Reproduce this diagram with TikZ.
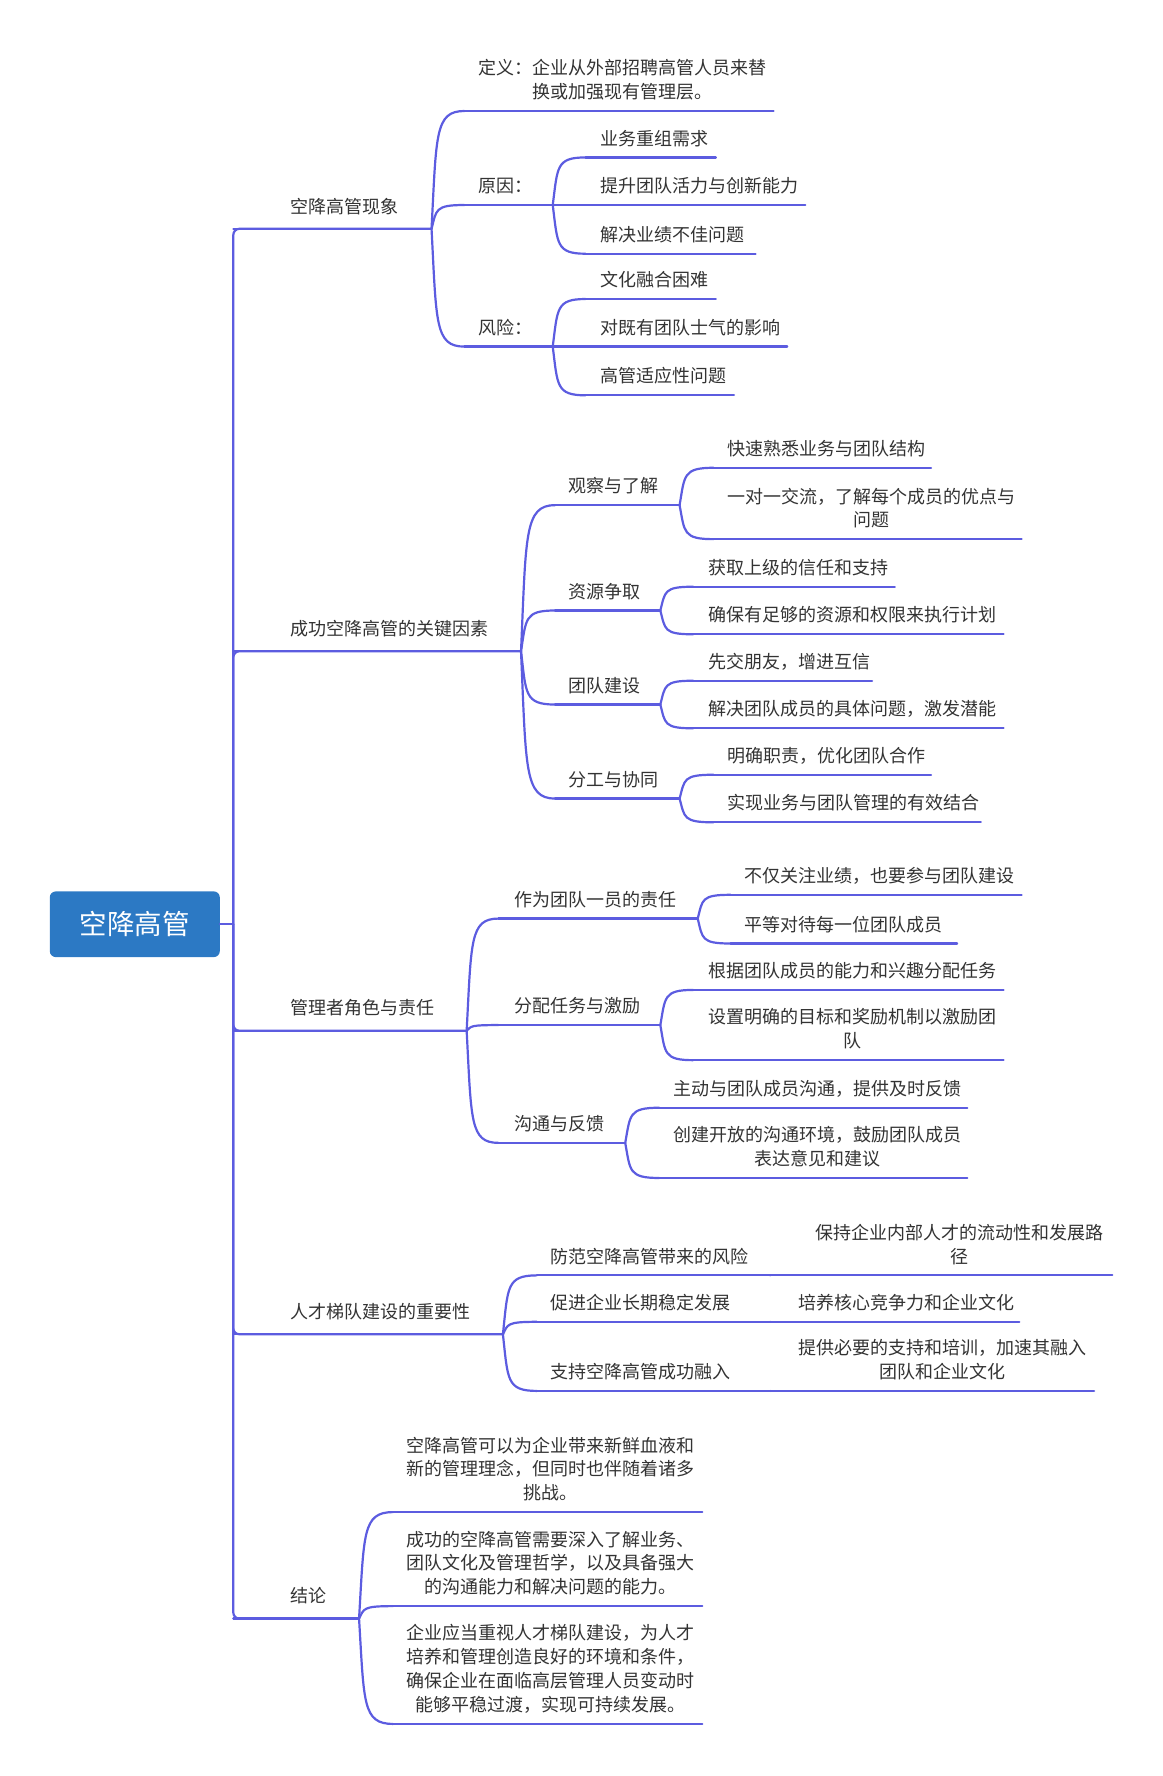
\documentclass[tikz,border=0pt]{standalone}
\usepackage{fontspec}
\newfontfamily\cjk{Noto Sans CJK SC}
\usetikzlibrary{calc}
\definecolor{lncol}{RGB}{92,92,224}
\definecolor{rootcol}{RGB}{44,121,196}
\definecolor{txtcol}{RGB}{51,51,51}
\tikzset{
  ln/.style={draw=lncol, line width=2.2pt, line cap=round},
  txt/.style={inner sep=0pt, align=center, text=txtcol, font=\cjk\fontsize{18}{23.8}\selectfont},
  rootbox/.style={fill=rootcol, rounded corners=6pt, minimum width=170pt, minimum height=65.7pt, inner sep=0pt, text=white, font=\cjk\fontsize{27.5}{30}\selectfont}
}
\newcommand\mmtopic[8][17]{%
  \coordinate (#2-s) at (#3,#5);
  \coordinate (#2-e) at (#4,#5);
  \draw[ln] (#2-s) -- (#2-e);
  \node[txt, anchor=west] (#2) at ({#6},{#5-#1-10.5*(#7-1)}) {#8};
}
\newcommand\mmcurve[2]{%
  \draw[ln] let \p1=(#1), \p2=(#2) in (\p1) .. controls ({\x1+0.15*(\x2-\x1)},{\y1+0.8*(\y2-\y1)}) and ({\x1+0.1*(\x2-\x1)},{\y2}) .. (\p2);
}
\begin{document}
\begin{tikzpicture}[x=1.1326pt,y=-1.1326pt]
\useasboundingbox (0,0) rectangle (1026,1568);
% root
\node[rootbox] (root) at (119,816) {空降高管};
\coordinate (rj) at (206,816);
\draw[ln] (root.east) -- (rj);
% main branches
\mmtopic[20]{B1}{206}{381}{202}{256}{1}{空降高管现象}
\mmtopic[20]{B2}{206}{460}{575}{256}{1}{成功空降高管的关键因素}
\mmtopic[20]{B3}{206}{412}{910}{256}{1}{管理者角色与责任}
\mmtopic[20]{B4}{206}{444}{1178}{256}{1}{人才梯队建设的重要性}
\mmtopic[20]{B5}{206}{317}{1429}{256}{1}{结论}
\draw[ln, rounded corners=6pt] (B1-e) -- (B1-s) -- (B5-s) -- (B5-e);
\draw[ln, rounded corners=6pt] (rj) -- (B2-s) -- (B2-e);
\draw[ln, rounded corners=6pt] (rj) -- (B3-s) -- (B3-e);
\draw[ln, rounded corners=6pt] (rj) -- (B4-s) -- (B4-e);
% branch 1
\mmtopic{a1}{410}{683}{98}{422}{2}{定义：企业从外部招聘高管人员来替\\换或加强现有管理层。}
\mmtopic{a2}{410}{488}{181}{422}{1}{原因：}
\mmtopic{a3}{410}{488}{306}{422}{1}{风险：}
\mmcurve{B1-e}{a1-s}
\mmcurve{B1-e}{a2-s}
\mmcurve{B1-e}{a3-s}
\mmtopic{a21}{517}{632}{139}{530}{1}{业务重组需求}
\mmtopic{a22}{517}{711}{181}{530}{1}{提升团队活力与创新能力}
\mmtopic{a23}{517}{667}{224}{530}{1}{解决业绩不佳问题}
\mmcurve{a2-e}{a21-s}
\mmcurve{a2-e}{a22-s}
\mmcurve{a2-e}{a23-s}
\mmtopic{a31}{517}{632}{264}{530}{1}{文化融合困难}
\mmtopic{a32}{517}{695}{306}{530}{1}{对既有团队士气的影响}
\mmtopic{a33}{517}{648}{349}{530}{1}{高管适应性问题}
\mmcurve{a3-e}{a31-s}
\mmcurve{a3-e}{a32-s}
\mmcurve{a3-e}{a33-s}
% branch 2
\mmtopic{c1}{490}{600}{446}{502}{1}{观察与了解}
\mmtopic{c2}{490}{583}{539}{502}{1}{资源争取}
\mmtopic{c3}{490}{583}{622}{502}{1}{团队建设}
\mmtopic{c4}{490}{600}{705}{502}{1}{分工与协同}
\mmcurve{B2-e}{c1-s}
\mmcurve{B2-e}{c2-s}
\mmcurve{B2-e}{c3-s}
\mmcurve{B2-e}{c4-s}
\mmtopic{c11}{630}{822}{413}{642}{1}{快速熟悉业务与团队结构}
\mmtopic{c12}{630}{902}{476}{642}{2}{一对一交流，了解每个成员的优点与\\问题}
\mmcurve{c1-e}{c11-s}
\mmcurve{c1-e}{c12-s}
\mmtopic{c21}{612}{790}{518}{625}{1}{获取上级的信任和支持}
\mmtopic{c22}{612}{886}{560}{625}{1}{确保有足够的资源和权限来执行计划}
\mmcurve{c2-e}{c21-s}
\mmcurve{c2-e}{c22-s}
\mmtopic{c31}{612}{770}{601}{625}{1}{先交朋友，增进互信}
\mmtopic{c32}{612}{886}{643}{625}{1}{解决团队成员的具体问题，激发潜能}
\mmcurve{c3-e}{c31-s}
\mmcurve{c3-e}{c32-s}
\mmtopic{c41}{630}{822}{684}{642}{1}{明确职责，优化团队合作}
\mmtopic{c42}{630}{866}{726}{642}{1}{实现业务与团队管理的有效结合}
\mmcurve{c4-e}{c41-s}
\mmcurve{c4-e}{c42-s}
% branch 3
\mmtopic{d1}{440}{616}{811}{454}{1}{作为团队一员的责任}
\mmtopic{d2}{440}{583}{905}{454}{1}{分配任务与激励}
\mmtopic{d3}{440}{552}{1009}{454}{1}{沟通与反馈}
\mmcurve{B3-e}{d1-s}
\mmcurve{B3-e}{d2-s}
\mmcurve{B3-e}{d3-s}
\mmtopic{d11}{645}{902}{790}{657}{1}{不仅关注业绩，也要参与团队建设}
\mmtopic{d12}{645}{845}{833}{657}{1}{平等对待每一位团队成员}
\mmcurve{d1-e}{d11-s}
\mmcurve{d1-e}{d12-s}
\mmtopic{d21}{612}{886}{874}{625}{1}{根据团队成员的能力和兴趣分配任务}
\mmtopic{d22}{612}{886}{936}{625}{2}{设置明确的目标和奖励机制以激励团\\队}
\mmcurve{d2-e}{d21-s}
\mmcurve{d2-e}{d22-s}
\mmtopic{d31}{582}{854}{978}{594}{1}{主动与团队成员沟通，提供及时反馈}
\mmtopic{d32}{582}{854}{1040}{594}{2}{创建开放的沟通环境，鼓励团队成员\\表达意见和建议}
\mmcurve{d3-e}{d31-s}
\mmcurve{d3-e}{d32-s}
% branch 4
\mmtopic{e1}{474}{680}{1126}{486}{1}{防范空降高管带来的风险}
\mmtopic{e2}{474}{680}{1167}{486}{1}{促进企业长期稳定发展}
\mmtopic{e3}{474}{680}{1228}{486}{1}{支持空降高管成功融入}
\mmcurve{B4-e}{e1-s}
\mmcurve{B4-e}{e2-s}
\mmcurve{B4-e}{e3-s}
\mmtopic{e11}{680}{982}{1126}{720}{2}{保持企业内部人才的流动性和发展路\\径}
\mmtopic{e21}{680}{900}{1167}{705}{1}{培养核心竞争力和企业文化}
\mmtopic{e31}{680}{966}{1228}{705}{2}{提供必要的支持和培训，加速其融入\\团队和企业文化}
\draw[ln] (e1-e) -- (e11-s);
\draw[ln] (e2-e) -- (e21-s);
\draw[ln] (e3-e) -- (e31-s);
% branch 5
\mmtopic{f1}{347}{620}{1335}{359}{3}{空降高管可以为企业带来新鲜血液和\\新的管理理念，但同时也伴随着诸多\\挑战。}
\mmtopic{f2}{347}{620}{1418}{359}{3}{成功的空降高管需要深入了解业务、\\团队文化及管理哲学，以及具备强大\\的沟通能力和解决问题的能力。}
\mmtopic{f3}{347}{620}{1522}{359}{4}{企业应当重视人才梯队建设，为人才\\培养和管理创造良好的环境和条件，\\确保企业在面临高层管理人员变动时\\能够平稳过渡，实现可持续发展。}
\mmcurve{B5-e}{f1-s}
\mmcurve{B5-e}{f2-s}
\mmcurve{B5-e}{f3-s}
\end{tikzpicture}
\end{document}
